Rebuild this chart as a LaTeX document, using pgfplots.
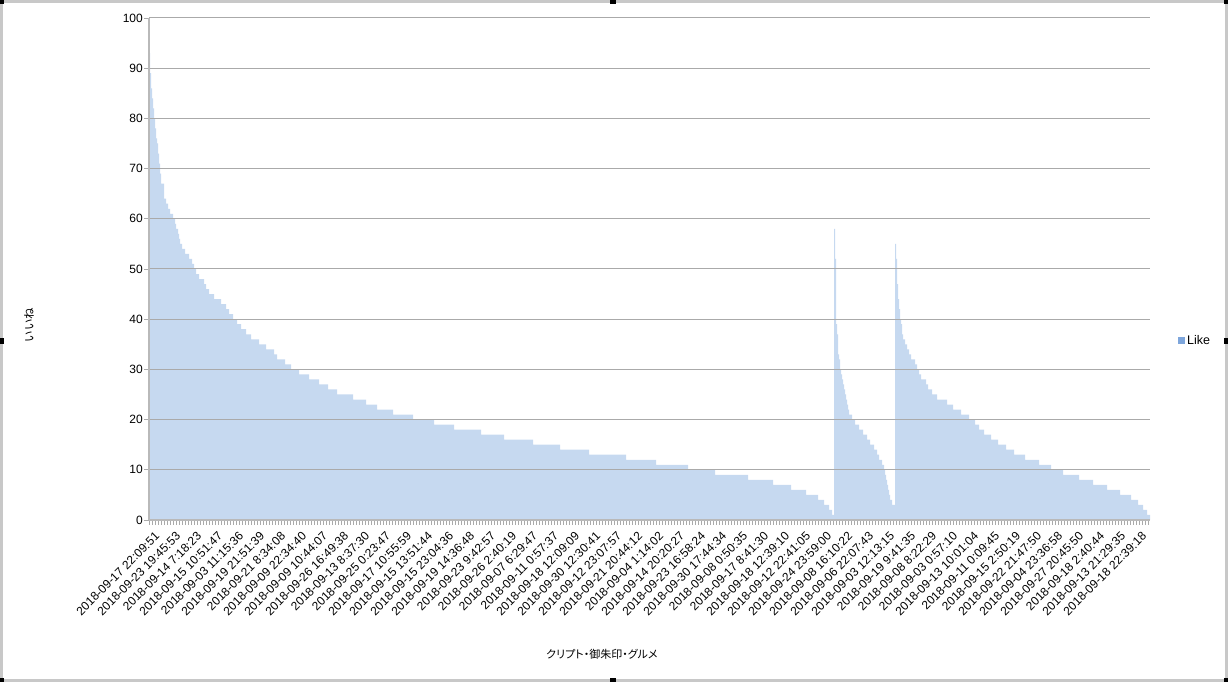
\documentclass[border=0pt]{standalone}
\usepackage{pgfplots}
\pgfplotsset{compat=1.18}
\usepackage{pgfplotstable}
\usepackage{fontspec}
\setmainfont{Liberation Sans}
\newfontfamily\jpfont{Noto Sans CJK JP}
\newfontfamily\jpfontp[RawFeature=+palt]{Noto Sans CJK JP}
\definecolor{barfill}{RGB}{198,217,240}
\definecolor{legfill}{RGB}{126,166,220}
\definecolor{gridc}{RGB}{170,170,170}
\definecolor{axisc}{RGB}{185,185,185}
\definecolor{framec}{RGB}{200,200,200}

\pgfplotstableread[header=false,row sep=\\]{
93\\89\\86\\84\\82\\80\\78\\76\\75\\73\\71\\69\\
67\\67\\67\\64\\64\\63\\63\\62\\62\\61\\61\\61\\60\\60\\59\\58\\58\\57\\56\\55\\55\\
54\\54\\54\\53\\53\\53\\53\\52\\52\\52\\51\\51\\50\\50\\49\\49\\49\\
48\\48\\48\\48\\48\\47\\47\\46\\46\\46\\45\\45\\45\\45\\45\\
44\\44\\44\\44\\44\\44\\44\\43\\43\\43\\43\\43\\42\\42\\42\\
41\\41\\41\\41\\40\\40\\40\\40\\39\\39\\39\\39\\38\\38\\38\\38\\38\\37\\37\\37\\37\\37\\
36\\36\\36\\36\\36\\36\\36\\36\\35\\35\\35\\35\\35\\35\\35\\
34\\34\\34\\34\\34\\34\\34\\34\\33\\33\\33\\32\\32\\32\\32\\32\\32\\32\\32\\
31\\31\\31\\31\\31\\31\\30\\30\\30\\30\\30\\30\\30\\30\\
29\\29\\29\\29\\29\\29\\29\\29\\29\\29\\
28\\28\\28\\28\\28\\28\\28\\28\\28\\28\\
27\\27\\27\\27\\27\\27\\27\\27\\27\\
26\\26\\26\\26\\26\\26\\26\\26\\26\\
25\\25\\25\\25\\25\\25\\25\\25\\25\\25\\
25\\25\\25\\25\\25\\25\\
24\\24\\24\\24\\24\\24\\24\\24\\24\\24\\
24\\24\\24\\
23\\23\\23\\23\\23\\23\\23\\23\\23\\23\\
23\\
22\\22\\22\\22\\22\\22\\22\\22\\22\\22\\
22\\22\\22\\22\\22\\22\\
21\\21\\21\\21\\21\\21\\21\\21\\21\\21\\
21\\21\\21\\21\\21\\21\\21\\21\\21\\21\\
20\\20\\20\\20\\20\\20\\20\\20\\20\\20\\
20\\20\\20\\20\\20\\20\\20\\20\\20\\20\\
20\\
19\\19\\19\\19\\19\\19\\19\\19\\19\\19\\
19\\19\\19\\19\\19\\19\\19\\19\\19\\19\\
18\\18\\18\\18\\18\\18\\18\\18\\18\\18\\
18\\18\\18\\18\\18\\18\\18\\18\\18\\18\\
18\\18\\18\\18\\18\\18\\18\\
17\\17\\17\\17\\17\\17\\17\\17\\17\\17\\
17\\17\\17\\17\\17\\17\\17\\17\\17\\17\\
17\\17\\17\\
16\\16\\16\\16\\16\\16\\16\\16\\16\\16\\
16\\16\\16\\16\\16\\16\\16\\16\\16\\16\\
16\\16\\16\\16\\16\\16\\16\\16\\16\\
15\\15\\15\\15\\15\\15\\15\\15\\15\\15\\
15\\15\\15\\15\\15\\15\\15\\15\\15\\15\\
15\\15\\15\\15\\15\\15\\15\\
14\\14\\14\\14\\14\\14\\14\\14\\14\\14\\
14\\14\\14\\14\\14\\14\\14\\14\\14\\14\\
14\\14\\14\\14\\14\\14\\14\\14\\14\\
13\\13\\13\\13\\13\\13\\13\\13\\13\\13\\
13\\13\\13\\13\\13\\13\\13\\13\\13\\13\\
13\\13\\13\\13\\13\\13\\13\\13\\13\\13\\
13\\13\\13\\13\\13\\13\\13\\
12\\12\\12\\12\\12\\12\\12\\12\\12\\12\\
12\\12\\12\\12\\12\\12\\12\\12\\12\\12\\
12\\12\\12\\12\\12\\12\\12\\12\\12\\12\\
11\\11\\11\\11\\11\\11\\11\\11\\11\\11\\
11\\11\\11\\11\\11\\11\\11\\11\\11\\11\\
11\\11\\11\\11\\11\\11\\11\\11\\11\\11\\
11\\11\\
10\\10\\10\\10\\10\\10\\10\\10\\10\\10\\
10\\10\\10\\10\\10\\10\\10\\10\\10\\10\\
10\\10\\10\\10\\10\\10\\10\\
9\\9\\9\\9\\9\\9\\9\\9\\9\\9\\
9\\9\\9\\9\\9\\9\\9\\9\\9\\9\\
9\\9\\9\\9\\9\\9\\9\\9\\9\\9\\
9\\9\\9\\
8\\8\\8\\8\\8\\8\\8\\8\\8\\8\\
8\\8\\8\\8\\8\\8\\8\\8\\8\\8\\
8\\8\\8\\8\\8\\
7\\7\\7\\7\\7\\7\\7\\7\\7\\7\\
7\\7\\7\\7\\7\\7\\7\\7\\
6\\6\\6\\6\\6\\6\\6\\6\\6\\6\\
6\\6\\6\\6\\6\\
5\\5\\5\\5\\5\\5\\5\\5\\5\\5\\
5\\5\\
4\\4\\4\\4\\4\\4\\3\\3\\3\\3\\3\\2\\2\\2\\1\\1\\
58\\52\\39\\37\\33\\32\\30\\29\\28\\27\\26\\25\\24\\23\\22\\
21\\21\\21\\20\\20\\20\\19\\19\\19\\19\\18\\18\\18\\18\\17\\17\\17\\17\\
16\\16\\16\\15\\15\\15\\15\\14\\14\\14\\13\\13\\12\\12\\12\\11\\11\\
10\\9\\8\\7\\6\\5\\4\\4\\3\\3\\3\\
55\\52\\47\\44\\42\\40\\39\\37\\36\\36\\35\\35\\34\\34\\33\\33\\
32\\32\\32\\32\\31\\31\\30\\30\\29\\29\\28\\28\\28\\28\\28\\27\\27\\
26\\26\\26\\26\\25\\25\\25\\25\\25\\
24\\24\\24\\24\\24\\24\\24\\24\\24\\24\\
23\\23\\23\\23\\23\\23\\
22\\22\\22\\22\\22\\22\\22\\22\\
21\\21\\21\\21\\21\\21\\21\\21\\
20\\20\\20\\20\\20\\20\\
19\\19\\19\\19\\
18\\18\\18\\18\\18\\
17\\17\\17\\17\\17\\17\\17\\
16\\16\\16\\16\\16\\16\\16\\
15\\15\\15\\15\\15\\15\\15\\15\\
14\\14\\14\\14\\14\\14\\14\\14\\
13\\13\\13\\13\\13\\13\\13\\13\\13\\13\\13\\
12\\12\\12\\12\\12\\12\\12\\12\\12\\12\\12\\12\\12\\12\\
11\\11\\11\\11\\11\\11\\11\\11\\11\\11\\11\\11\\
10\\10\\10\\10\\10\\10\\10\\10\\10\\10\\10\\10\\
9\\9\\9\\9\\9\\9\\9\\9\\9\\9\\9\\9\\9\\9\\9\\9\\
8\\8\\8\\8\\8\\8\\8\\8\\8\\8\\8\\8\\8\\8\\
7\\7\\7\\7\\7\\7\\7\\7\\7\\7\\7\\7\\7\\7\\
6\\6\\6\\6\\6\\6\\6\\6\\6\\6\\6\\6\\6\\
5\\5\\5\\5\\5\\5\\5\\5\\5\\5\\5\\
4\\4\\4\\4\\4\\4\\4\\
3\\3\\3\\3\\3\\
2\\2\\2\\2\\
1\\1\\1\\
}\likedata

\begin{document}
\begin{tikzpicture}[x=1pt,y=1pt]
\path[use as bounding box] (0,0) rectangle (1228,682);
\draw[draw=framec, line width=3pt] (1.5,1.5) rectangle (1226.5,680.5);
\begin{axis}[
  at={(149pt,162pt)}, anchor=south west,
  scale only axis, width=1001pt, height=502pt,
  xmin=-0.5, xmax=1000.5, ymin=0, ymax=100,
  axis lines*=left,
  axis line style={draw=axisc, line width=1.2pt},
  axis on top=true,
  ytick={0,10,...,100},
  ymajorgrids, grid style={draw=gridc, line width=1pt},
  xtick={0,21,...,987},
  minor xtick={0,3,...,999},
  xticklabels={2018-09-17 22:09:51,2018-09-23 19:45:53,2018-09-14 7:18:23,2018-09-15 10:51:47,2018-09-03 11:15:36,2018-09-19 21:51:39,2018-09-21 8:34:08,2018-09-09 22:34:40,2018-09-09 10:44:07,2018-09-26 16:49:38,2018-09-13 8:37:30,2018-09-25 0:23:47,2018-09-17 10:55:59,2018-09-15 13:51:44,2018-09-15 23:04:36,2018-09-19 14:36:48,2018-09-23 9:42:57,2018-09-26 2:40:19,2018-09-07 6:29:47,2018-09-11 0:57:37,2018-09-18 12:09:09,2018-09-30 12:30:41,2018-09-12 23:07:57,2018-09-21 20:44:12,2018-09-04 1:14:02,2018-09-14 20:20:27,2018-09-23 16:58:24,2018-09-30 17:44:34,2018-09-08 0:50:35,2018-09-17 8:41:30,2018-09-18 12:39:10,2018-09-12 22:41:05,2018-09-24 23:59:00,2018-09-08 16:10:22,2018-09-06 22:07:43,2018-09-03 12:13:15,2018-09-19 9:41:35,2018-09-08 8:22:29,2018-09-03 0:57:10,2018-09-13 10:01:04,2018-09-11 0:09:45,2018-09-15 2:50:19,2018-09-22 21:47:50,2018-09-04 23:36:58,2018-09-27 20:45:50,2018-09-18 2:40:44,2018-09-13 21:29:35,2018-09-18 22:39:18},
  tick align=outside,
  major tick length=5pt, minor tick length=5pt,
  xtick style={draw=gridc, line width=0.8pt},
  ytick style={draw=gridc, line width=0.8pt},
  /pgf/number format/assume math mode=true,
  tick label style={font=\fontsize{12}{14}\selectfont, text=black},
  xticklabel style={rotate=45, anchor=east, inner sep=0pt, yshift=-12pt, xshift=-1pt},
  yticklabel style={anchor=east, inner sep=0pt, xshift=-1pt},
  xlabel={\jpfontp クリプト・御朱印・グルメ},
  xlabel style={at={(axis description cs:0.4525,0)}, anchor=center, yshift=-134pt, font=\fontsize{11}{13}\selectfont},
  ylabel={\jpfont いいね},
  ylabel style={at={(axis description cs:-0.1199,0.3884)}, anchor=center, font=\fontsize{11.5}{13}\selectfont},
  legend style={at={(axis description cs:1.028,0.3566)}, anchor=west, draw=none, fill=none, inner sep=0pt, font=\fontsize{12.5}{14}\selectfont},
  legend image code/.code={\fill[legfill] (0pt,-3.5pt) rectangle (7pt,3.5pt);},
]
\addplot[ybar, bar width=1, bar shift=0pt, fill=barfill, draw=none] table[x expr=\coordindex, y index=0] {\likedata};
\addlegendentry{Like}
\end{axis}
\fill[black] (0,678) rectangle (4,682);
\fill[black] (610,678) rectangle (616,682);
\fill[black] (1224,678) rectangle (1228,682);
\fill[black] (0,338) rectangle (4,344);
\fill[black] (1224,338) rectangle (1228,344);
\fill[black] (0,0) rectangle (4,4);
\fill[black] (610,0) rectangle (616,4);
\fill[black] (1224,0) rectangle (1228,4);
\end{tikzpicture}
\end{document}
